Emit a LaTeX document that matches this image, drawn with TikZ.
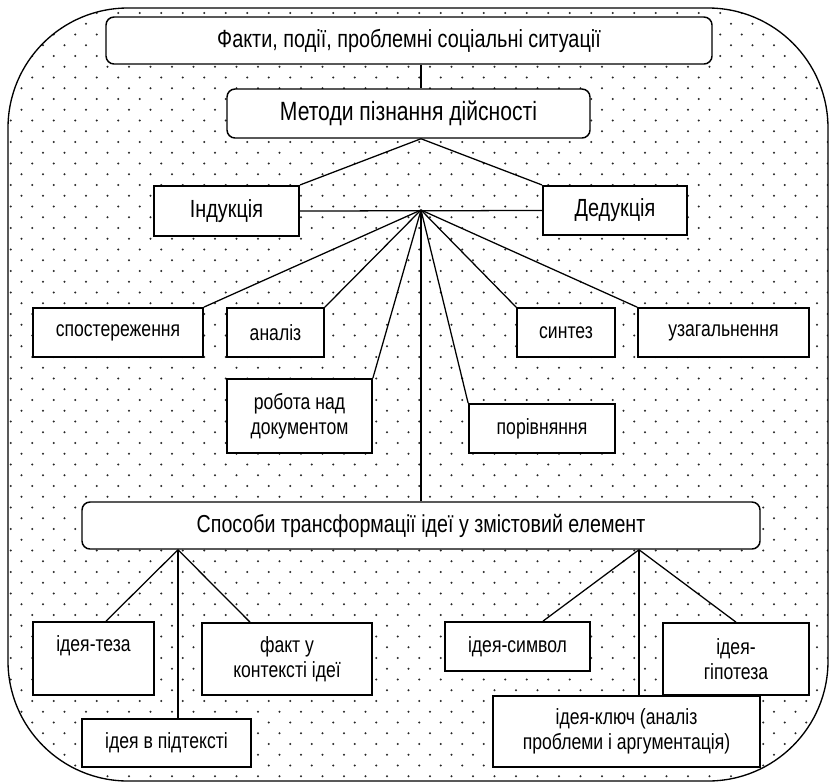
\documentclass[tikz,border=0pt]{standalone}
\usepackage{fontspec}
\setmainfont{Liberation Sans}[FakeStretch=0.8]
\begin{document}
\begin{tikzpicture}[x=0.75pt,y=-0.75pt,
  wh/.style 2 args={minimum width=#1*0.75pt, minimum height=#2*0.75pt},
  basebox/.style={draw=black, fill=white, inner sep=0pt, align=center,
    font=\fontsize{16.5}{18.5}\selectfont},
  plainbox/.style={basebox, line width=1.3pt},
  roundbox/.style={basebox, line width=1.1pt, rounded corners=6pt},
  mainbox/.style={basebox, line width=1.6pt, font=\fontsize{18.6}{21}\selectfont},
  link/.style={draw=black, line width=0.95pt}]
\useasboundingbox (0,0) rectangle (829,783);

% dotted background inside the outer frame
\begin{scope}
  \clip[rounded corners=90pt] (8,8) rectangle (828,781);
  \foreach \r in {0,...,73}{
    \pgfmathsetmacro{\yy}{2.25+\r*10.75}
    \pgfmathsetmacro{\xo}{mod(\r,2)*10.75}
    \foreach \c in {0,...,38}{
      \fill[black!85] ({\xo+\c*21.5},\yy) circle[radius=0.85pt];
    }
  }
\end{scope}
\draw[line width=1pt, rounded corners=90pt] (8,8) rectangle (828,781);

% junction points
\coordinate (hub) at (421,210);
\coordinate (bl) at (178,549);
\coordinate (br) at (639,549);

% upper part
\node[roundbox, wh={606}{47}, font=\fontsize{18.6}{21}\selectfont] (top) at (409,40.5) {Факти, події, проблемні соціальні ситуації};
\node[roundbox, wh={363}{49}, font=\fontsize{19.8}{22}\selectfont] (metody) at (408.5,113.5) {Методи пізнання дійсності};
\node[mainbox, wh={145}{50}] (ind) at (226.5,211) {Індукція};
\node[mainbox, wh={144}{49}] (ded) at (615,210.5) {Дедукція};

% methods
\node[plainbox, wh={170}{49}] (spost) at (118,332.5) {спостереження};
\node[plainbox, wh={97}{49}] (analiz) at (275.5,332.5) {аналіз};
\node[plainbox, wh={98}{49}] (syntez) at (566,332.5) {синтез};
\node[plainbox, wh={171}{49}] (uzag) at (723.5,332.5) {узагальнення};
\node[plainbox, wh={145}{74}] (robota) at (299.5,416) {робота над\\документом};
\node[plainbox, wh={146}{49}] (porivn) at (542,428.5) {порівняння};

% transformation ways
\node[roundbox, wh={678}{47}, font=\fontsize{18.4}{21}\selectfont] (sposoby) at (421,525.5) {Способи трансформації ідеї у змістовий елемент};
\node[plainbox, wh={121}{73}] (teza) at (93.5,658.5) {ідея-теза\\\phantom{ідея}};
\node[plainbox, wh={170}{72}] (fakt) at (287,659) {факт у\\контексті ідеї};
\node[plainbox, wh={169}{48}] (pidtekst) at (166.5,743) {ідея в підтексті};
\node[plainbox, wh={145}{49}] (symvol) at (517.5,646.5) {ідея-символ};
\node[plainbox, wh={146}{72}] (hipoteza) at (736,659) {ідея-\\гіпотеза};
\node[plainbox, wh={267}{71}] (kliuch) at (626.5,731.5) {ідея-ключ (аналіз\\проблеми і аргументація)};

% connectors
\draw[link] (top.south -| hub) -- (metody.north -| hub);
\draw[link] (metody.south -| hub) -- (ind.north east);
\draw[link] (metody.south -| hub) -- (ded.north west);
\draw[link] (ind.east) -- (ded.west);
\draw[link] (hub) -- (spost.north east);
\draw[link] (hub) -- (analiz.north east);
\draw[link] (hub) -- (robota.north east);
\draw[link] (hub) -- (porivn.north west);
\draw[link] (hub) -- (syntez.north west);
\draw[link] (hub) -- (uzag.north west);
\draw[link] (hub) -- (sposoby.north -| hub);

\draw[link] (sposoby.south -| bl) -- ([xshift=9.4pt]teza.north);
\draw[link] (sposoby.south -| bl) -- ([xshift=-27.75pt]fakt.north);
\draw[link] (sposoby.south -| bl) -- (pidtekst.north -| bl);
\draw[link] (sposoby.south -| br) -- ([xshift=19.1pt]symvol.north);
\draw[link] (sposoby.south -| br) -- (hipoteza.north);
\draw[link] (sposoby.south -| br) -- (kliuch.north -| br);
\end{tikzpicture}
\end{document}
